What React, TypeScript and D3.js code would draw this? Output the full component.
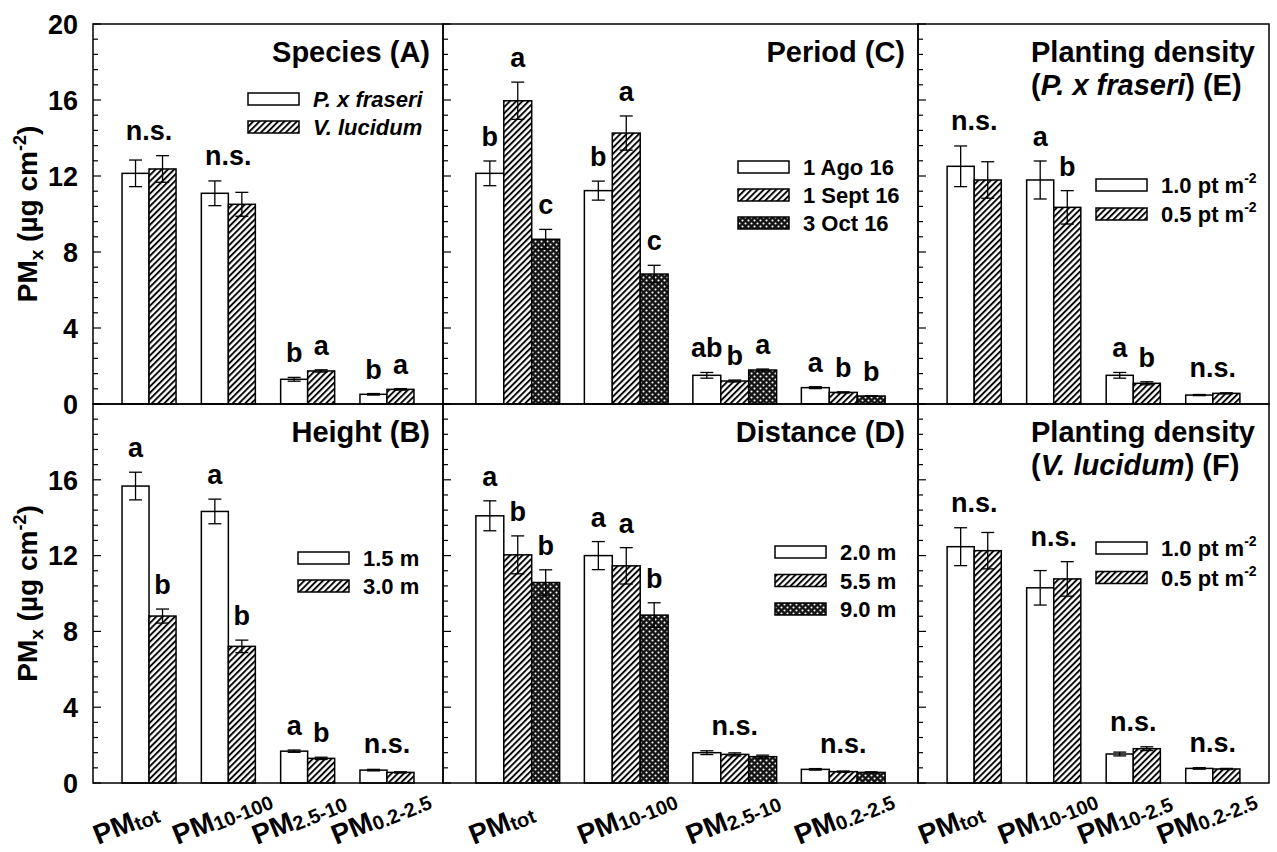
import React from "react";
import * as d3 from "d3";

// ---------------- DATA ----------------
const categoriesMain = ["tot", "10-100", "2.5-10", "0.2-2.5"];
const categoriesDensity = ["tot", "10-100", "10-2.5", "0.2-2.5"];

const speciesSeries = ["P. x fraseri", "V. lucidum"];
const speciesMeans = [[12.14, 11.09, 1.30, 0.51], [12.37, 10.51, 1.74, 0.77]];
const speciesErrors = [[0.70, 0.65, 0.10, 0.04], [0.70, 0.63, 0.06, 0.04]];
const speciesLetters = [["n.s."], ["n.s."], ["b", "a"], ["b", "a"]];

const heightSeries = ["1.5 m", "3.0 m"];
const heightMeans = [[15.67, 14.33, 1.68, 0.68], [8.81, 7.21, 1.30, 0.56]];
const heightErrors = [[0.73, 0.65, 0.06, 0.04], [0.37, 0.33, 0.06, 0.03]];
const heightLetters = [["a", "b"], ["a", "b"], ["a", "b"], ["n.s."]];

const periodSeries = ["1 Ago 16", "1 Sept 16", "3 Oct 16"];
const periodMeans = [[12.14, 11.23, 1.51, 0.86], [15.96, 14.26, 1.21, 0.61], [8.67, 6.84, 1.79, 0.42]];
const periodErrors = [[0.65, 0.50, 0.15, 0.05], [0.98, 0.90, 0.05, 0.03], [0.52, 0.46, 0.05, 0.02]];
const periodLetters = [["b", "a", "c"], ["b", "a", "c"], ["ab", "b", "a"], ["a", "b", "b"]];

const distanceSeries = ["2.0 m", "5.5 m", "9.0 m"];
const distanceMeans = [[14.10, 12.00, 1.60, 0.72], [12.04, 11.46, 1.51, 0.60], [10.58, 8.86, 1.39, 0.56]];
const distanceErrors = [[0.79, 0.74, 0.10, 0.04], [1.00, 0.96, 0.08, 0.03], [0.67, 0.65, 0.08, 0.03]];
const distanceLetters = [["a", "b", "b"], ["a", "a", "b"], ["n.s."], ["n.s."]];

const densitySeries = ["1.0 pt m^-2", "0.5 pt m^-2"];
const densityPMeans = [[12.51, 11.79, 1.51, 0.47], [11.79, 10.35, 1.09, 0.56]];
const densityPErrors = [[1.07, 1.00, 0.15, 0.03], [0.96, 0.88, 0.08, 0.03]];
const densityPLetters = [["n.s."], ["a", "b"], ["a", "b"], ["n.s."]];

const densityVMeans = [[12.47, 10.30, 1.53, 0.77], [12.26, 10.77, 1.81, 0.74]];
const densityVErrors = [[1.00, 0.91, 0.10, 0.04], [0.96, 0.91, 0.10, 0.03]];
const densityVLetters = [["n.s."], ["n.s."], ["n.s."], ["n.s."]];

const yTicksTop = [0, 4, 8, 12, 16, 20];
const yTicksBottom = [0, 4, 8, 12, 16];

// ---------------- LAYOUT ----------------
const W = 1277;
const H = 852;
const FONT = "'Liberation Sans', Arial, Helvetica, sans-serif";
const cols = [[93, 443], [443, 918], [918, 1269]];
const rows = [[24, 404], [404, 783]];
const fills = ["#fff", "url(#hatch)", "url(#cross)"];

type Seg = { t: string; i?: boolean };

const panels = [
  { col: 0, row: 0, series: speciesSeries, means: speciesMeans, errors: speciesErrors, letters: speciesLetters, cats: categoriesMain,
    title: [[{ t: "Species (A)" }]] as Seg[][], titleLeft: false, legend: { x: 248, y: 93, dy: 28, italic: true } },
  { col: 0, row: 1, series: heightSeries, means: heightMeans, errors: heightErrors, letters: heightLetters, cats: categoriesMain,
    title: [[{ t: "Height (B)" }]] as Seg[][], titleLeft: false, legend: { x: 298, y: 552, dy: 28, italic: false } },
  { col: 1, row: 0, series: periodSeries, means: periodMeans, errors: periodErrors, letters: periodLetters, cats: categoriesMain,
    title: [[{ t: "Period (C)" }]] as Seg[][], titleLeft: false, legend: { x: 738, y: 161, dy: 28, italic: false } },
  { col: 1, row: 1, series: distanceSeries, means: distanceMeans, errors: distanceErrors, letters: distanceLetters, cats: categoriesMain,
    title: [[{ t: "Distance (D)" }]] as Seg[][], titleLeft: false, legend: { x: 775, y: 546, dy: 28.5, italic: false } },
  { col: 2, row: 0, series: densitySeries, means: densityPMeans, errors: densityPErrors, letters: densityPLetters, cats: categoriesDensity,
    title: [[{ t: "Planting density" }], [{ t: "(" }, { t: "P. x fraseri", i: true }, { t: ") (E)" }]] as Seg[][], titleLeft: true,
    legend: { x: 1096, y: 179, dy: 29, italic: false } },
  { col: 2, row: 1, series: densitySeries, means: densityVMeans, errors: densityVErrors, letters: densityVLetters, cats: categoriesDensity,
    title: [[{ t: "Planting density" }], [{ t: "(" }, { t: "V. lucidum", i: true }, { t: ") (F)" }]] as Seg[][], titleLeft: true,
    legend: { x: 1096, y: 542, dy: 29.5, italic: false } },
];

function LegendLabel({ text, italic }: { text: string; italic: boolean }) {
  const parts = text.split("^");
  return (
    <>
      <tspan fontStyle={italic ? "italic" : "normal"}>{parts[0]}</tspan>
      {parts[1] ? <tspan fontSize={14} dy={-10}>{parts[1]}</tspan> : null}
    </>
  );
}

function Panel({ p }: { p: (typeof panels)[number] }) {
  const [x0, x1] = cols[p.col];
  const [y0, y1] = rows[p.row];
  const n = p.series.length;
  const y = d3.scaleLinear().domain([0, 20]).range([y1, y0]);
  const xg = d3
    .scaleBand<string>()
    .domain(p.cats)
    .range([x0, x1])
    .paddingInner(n === 2 ? 0.319 : 0.228)
    .paddingOuter(n === 2 ? 0.366 : 0.303);
  const xs = d3.scaleBand<number>().domain(d3.range(n)).range([0, xg.bandwidth()]);
  const bw = xs.bandwidth();
  const minor = d3.range(0, 20.001, 0.8);
  const labelTicks = p.col === 0 ? (p.row === 0 ? yTicksTop : yTicksBottom) : [];
  const labelShift = n === 2 ? 51 : 44;

  return (
    <g>
      {/* bars */}
      {p.cats.map((c, ci) =>
        p.series.map((s, si) => {
          const v = p.means[si][ci];
          const e = p.errors[si][ci];
          const bx = (xg(c) as number) + (xs(si) as number);
          const cx = bx + bw / 2;
          return (
            <g key={c + si}>
              <rect x={bx} y={y(v)} width={bw} height={y(0) - y(v)} fill={fills[si]} stroke="#000" strokeWidth={1.5} />
              <line x1={cx} x2={cx} y1={y(v - e)} y2={y(v + e)} stroke="#000" strokeWidth={1.3} />
              <line x1={cx - 6.5} x2={cx + 6.5} y1={y(v + e)} y2={y(v + e)} stroke="#000" strokeWidth={1.3} />
              <line x1={cx - 6.5} x2={cx + 6.5} y1={y(v - e)} y2={y(v - e)} stroke="#000" strokeWidth={1.3} />
            </g>
          );
        })
      )}
      {/* significance letters */}
      {p.cats.map((c, ci) => {
        const lets = p.letters[ci];
        if (lets.length === 1 && n > 1) {
          const top = d3.max(p.series.map((_, si) => p.means[si][ci] + p.errors[si][ci])) as number;
          const gx = (xg(c) as number) + xg.bandwidth() / 2;
          return (
            <text key={"l" + c} x={gx} y={y(top) - 16} textAnchor="middle" fontSize={27} fontWeight="bold">
              {lets[0]}
            </text>
          );
        }
        return lets.map((l, si) => {
          const top = p.means[si][ci] + p.errors[si][ci];
          const cx = (xg(c) as number) + (xs(si) as number) + bw / 2;
          return (
            <text key={"l" + c + si} x={cx} y={y(top) - 15} textAnchor="middle" fontSize={27} fontWeight="bold">
              {l}
            </text>
          );
        });
      })}
      {/* frame */}
      <rect x={x0} y={y0} width={x1 - x0} height={y1 - y0} fill="none" stroke="#000" strokeWidth={1.5} />
      {/* y ticks (inward) */}
      {minor.map((t, i) => {
        const major = Math.abs(t / 4 - Math.round(t / 4)) < 1e-6;
        return <line key={"t" + i} x1={x0} x2={x0 + (major ? 8 : 5)} y1={y(t)} y2={y(t)} stroke="#000" strokeWidth={1.2} />;
      })}
      {labelTicks.map((t) => (
        <text key={"yl" + t} x={x0 - 15} y={y(t)} dy="0.36em" textAnchor="end" fontSize={27} fontWeight="bold">
          {t}
        </text>
      ))}
      {/* title */}
      {p.title.map((line, li) => (
        <text
          key={"ti" + li}
          x={p.titleLeft ? x0 + 113 : x1 - 13}
          y={y0 + 38 + li * 33}
          textAnchor={p.titleLeft ? "start" : "end"}
          fontSize={29}
          fontWeight="bold"
        >
          {line.map((s, k) => (
            <tspan key={k} fontStyle={s.i ? "italic" : "normal"}>
              {s.t}
            </tspan>
          ))}
        </text>
      ))}
      {/* legend */}
      {p.series.map((s, si) => (
        <g key={"lg" + si}>
          <rect x={p.legend.x} y={p.legend.y + si * p.legend.dy} width={51} height={12} fill={fills[si]} stroke="#000" strokeWidth={1.5} />
          <text x={p.legend.x + 65} y={p.legend.y + si * p.legend.dy + 6 + 8} fontSize={22} fontWeight="bold">
            <LegendLabel text={s} italic={p.legend.italic} />
          </text>
        </g>
      ))}
      {/* x labels */}
      {p.row === 1 &&
        p.cats.map((c) => {
          const gx = (xg(c) as number) + xg.bandwidth() / 2;
          return (
            <text key={"xl" + c} transform={`translate(${gx - labelShift},${845}) rotate(-22)`} fontWeight="bold" fontSize={28}>
              <tspan>PM</tspan>
              <tspan fontSize={20} dy={2}>{c}</tspan>
            </text>
          );
        })}
    </g>
  );
}

export default function App() {
  return (
    <svg
      width={W}
      height={H}
      viewBox={`0 0 ${W} ${H}`}
      style={{ position: "absolute", left: 0, top: 0, background: "#fff" }}
      fontFamily={FONT}
    >
      <defs>
        <pattern id="hatch" patternUnits="userSpaceOnUse" width={4.4} height={4.4} patternTransform="rotate(45)">
          <rect width={4.4} height={4.4} fill="#fff" />
          <line x1={1} x2={1} y1={0} y2={4.4} stroke="#000" strokeWidth={1.9} />
        </pattern>
        <pattern id="cross" patternUnits="userSpaceOnUse" width={6} height={6}>
          <rect width={6} height={6} fill="#151515" />
          <circle cx={1.5} cy={1.5} r={1.05} fill="#fff" />
          <circle cx={4.5} cy={4.5} r={1.05} fill="#fff" />
        </pattern>
      </defs>
      <rect width={W} height={H} fill="#fff" />
      {panels.map((p, i) => (
        <Panel key={i} p={p} />
      ))}
      {/* y-axis labels */}
      {rows.map(([a, b], i) => (
        <text key={"yt" + i} transform={`translate(37,${(a + b) / 2}) rotate(-90)`} textAnchor="middle" fontSize={28} fontWeight="bold">
          <tspan>PM</tspan>
          <tspan fontSize={19} dy={6}>x</tspan>
          <tspan dy={-6}> (µg cm</tspan>
          <tspan fontSize={18} dy={-11}>-2</tspan>
          <tspan dy={11}>)</tspan>
        </text>
      ))}
    </svg>
  );
}
